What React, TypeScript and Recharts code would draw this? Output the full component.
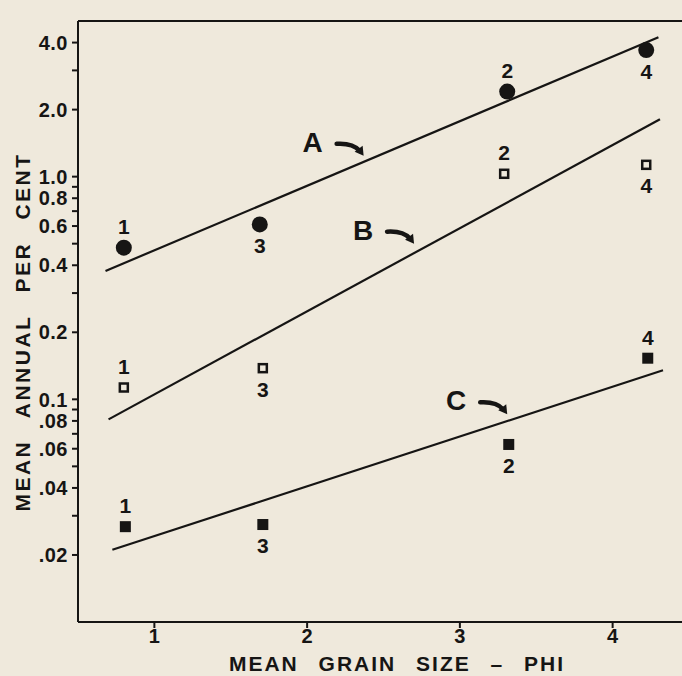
import { ComposedChart, ReferenceDot, ReferenceLine, Scatter, XAxis, YAxis } from 'recharts';

const INK = '#161514';
const PAPER = '#efe9dc';
const FONT = '"Liberation Sans", Arial, sans-serif';

// site numbers, in the order the points are drawn
const SITES = ['1', '3', '2', '4'];

// curve A: filled circles
const A_PHI = [0.8, 1.69, 3.31, 4.22];
const A_PCT = [0.48, 0.61, 2.41, 3.7];
// curve B: open squares
const B_PHI = [0.8, 1.71, 3.29, 4.22];
const B_PCT = [0.113, 0.138, 1.03, 1.13];
// curve C: filled squares
const C_PHI = [0.81, 1.71, 3.32, 4.23];
const C_PCT = [0.0268, 0.0274, 0.0627, 0.153];

// fitted lines, end points
const LINE_A_PHI = [0.68, 4.3];
const LINE_A_PCT = [0.377, 4.23];
const LINE_B_PHI = [0.7, 4.31];
const LINE_B_PCT = [0.0813, 1.81];
const LINE_C_PHI = [0.725, 4.33];
const LINE_C_PCT = [0.0211, 0.135];

// where each letter's arrow points
const LETTERS = ['A', 'B', 'C'];
const LETTER_PHI = [2.37, 2.7, 3.31];
const LETTER_PCT = [1.24, 0.5, 0.0856];

const X_TICKS = [1, 2, 3, 4];
const Y_TICKS = [4, 3, 2, 1, 0.9, 0.8, 0.7, 0.6, 0.5, 0.4, 0.3, 0.2, 0.1, 0.09, 0.08, 0.07, 0.06, 0.05, 0.04, 0.03, 0.02];
const Y_LABELS: Record<string, string> = {
  '4': '4.0',
  '2': '2.0',
  '1': '1.0',
  '0.8': '0.8',
  '0.6': '0.6',
  '0.4': '0.4',
  '0.2': '0.2',
  '0.1': '0.1',
  '0.08': '.08',
  '0.06': '.06',
  '0.04': '.04',
  '0.02': '.02',
};

// site labels drawn under the mark instead of above it
const BELOW: Record<string, string[]> = {
  A: ['3', '4'],
  B: ['3', '4'],
  C: ['3', '2'],
};

const toPoints = (phi: number[], pct: number[], ids?: string[]) =>
  phi.map((x, i) => ({ phi: x, pct: pct[i], site: ids ? ids[i] : '' }));

const ptsA = toPoints(A_PHI, A_PCT, SITES);
const ptsB = toPoints(B_PHI, B_PCT, SITES);
const ptsC = toPoints(C_PHI, C_PCT, SITES);
const lineA = toPoints(LINE_A_PHI, LINE_A_PCT);
const lineB = toPoints(LINE_B_PHI, LINE_B_PCT);
const lineC = toPoints(LINE_C_PHI, LINE_C_PCT);

const textStyle = { fontFamily: FONT, fontWeight: 700, fill: INK } as const;

function SiteLabel({ x, y, site, below }: { x: number; y: number; site: string; below: boolean }) {
  return (
    <text x={x} y={below ? y + 21 : y - 21} dy="0.36em" textAnchor="middle" fontSize={21} {...textStyle}>
      {site}
    </text>
  );
}

function makeShape(curve: 'A' | 'B' | 'C') {
  return (p: any) => {
    const { cx, cy, payload } = p;
    if (cx == null || cy == null) return <g />;
    const below = BELOW[curve].includes(payload.site);
    let mark;
    if (curve === 'A') mark = <circle cx={cx} cy={cy} r={8} fill={INK} />;
    else if (curve === 'B')
      mark = <rect x={cx - 4} y={cy - 4} width={8} height={8} fill="none" stroke={INK} strokeWidth={2.5} />;
    else mark = <rect x={cx - 5.5} y={cy - 5.5} width={11} height={11} fill={INK} />;
    return (
      <g>
        {mark}
        <SiteLabel x={cx} y={cy} site={payload.site} below={below} />
      </g>
    );
  };
}

function Annotation({ cx, cy, letter }: { cx?: number; cy?: number; letter: string }) {
  if (cx == null || cy == null) return <g />;
  return (
    <g>
      <text x={cx - 51} y={cy - 14} dy="0.36em" textAnchor="middle" fontSize={28} {...textStyle}>
        {letter}
      </text>
      <path
        d={`M ${cx - 27} ${cy - 12} Q ${cx - 11} ${cy - 13} ${cx - 4} ${cy - 5}`}
        fill="none"
        stroke={INK}
        strokeWidth={4.5}
        strokeLinecap="round"
      />
      <polygon points={`${cx},${cy} ${cx - 1},${cy - 10} ${cx - 9},${cy - 4}`} fill={INK} />
    </g>
  );
}

function YTick({ x, y, payload }: any) {
  const label = Y_LABELS[String(payload.value)];
  if (!label) return <g />;
  return (
    <text x={x} y={y} dy="0.36em" textAnchor="end" fontSize={20} letterSpacing={0.5} {...textStyle}>
      {label}
    </text>
  );
}

function XTick({ x, y, payload }: any) {
  return (
    <text x={x} y={y + 6} dy="0.36em" textAnchor="middle" fontSize={20} {...textStyle}>
      {payload.value}
    </text>
  );
}

export default function App() {
  return (
    <div
      style={{
        position: 'fixed',
        left: 0,
        top: 0,
        width: 682,
        height: 676,
        overflow: 'hidden',
        background: PAPER,
      }}
    >
      <ComposedChart width={690} height={676} margin={{ top: 21, right: 1, bottom: 0, left: 8 }}>
        <XAxis
          type="number"
          dataKey="phi"
          domain={[0.5, 4.5]}
          ticks={X_TICKS}
          allowDataOverflow
          height={54}
          axisLine={{ stroke: INK, strokeWidth: 2 }}
          tickLine={{ stroke: INK, strokeWidth: 2 }}
          tickSize={6}
          tick={<XTick />}
        />
        <YAxis
          type="number"
          dataKey="pct"
          scale="log"
          domain={[0.01, 5]}
          ticks={Y_TICKS}
          interval={0}
          allowDataOverflow
          width={70}
          axisLine={{ stroke: INK, strokeWidth: 2 }}
          tickLine={{ stroke: INK, strokeWidth: 2 }}
          tickSize={6}
          tickMargin={4}
          tick={<YTick />}
        />
        <ReferenceLine y={5} stroke={INK} strokeWidth={2} />

        <Scatter data={lineA} line={{ stroke: INK, strokeWidth: 2.2 }} shape={() => <g />} isAnimationActive={false} />
        <Scatter data={lineB} line={{ stroke: INK, strokeWidth: 2.2 }} shape={() => <g />} isAnimationActive={false} />
        <Scatter data={lineC} line={{ stroke: INK, strokeWidth: 2.2 }} shape={() => <g />} isAnimationActive={false} />

        <Scatter data={ptsA} shape={makeShape('A')} isAnimationActive={false} />
        <Scatter data={ptsB} shape={makeShape('B')} isAnimationActive={false} />
        <Scatter data={ptsC} shape={makeShape('C')} isAnimationActive={false} />

        {LETTERS.map((l, i) => (
          <ReferenceDot
            key={l}
            x={LETTER_PHI[i]}
            y={LETTER_PCT[i]}
            r={0}
            shape={(p: any) => <Annotation cx={p.cx} cy={p.cy} letter={l} />}
          />
        ))}

        <text
          x={22}
          y={332}
          transform="rotate(-90 22 332)"
          dy="0.36em"
          textAnchor="middle"
          fontSize={21}
          letterSpacing={2.5}
          wordSpacing={14}
          {...textStyle}
        >
          MEAN ANNUAL PER CENT
        </text>
        <text x={397} y={663} dy="0.36em" textAnchor="middle" fontSize={21} letterSpacing={2} wordSpacing={12} {...textStyle}>
          MEAN GRAIN SIZE – PHI
        </text>
      </ComposedChart>
    </div>
  );
}
